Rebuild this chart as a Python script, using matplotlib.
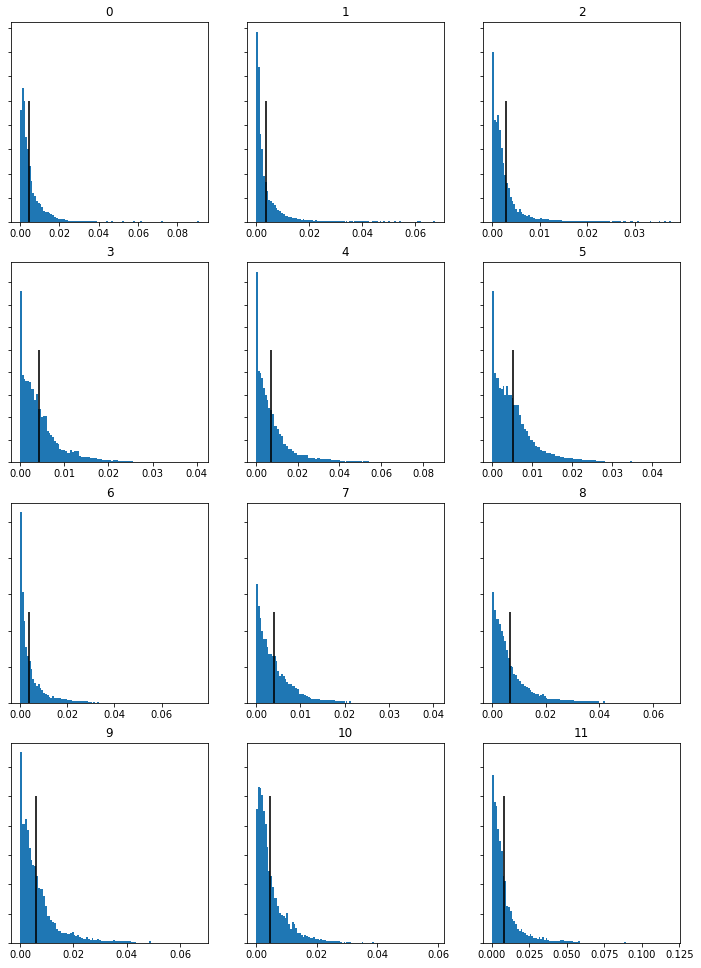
import numpy as np
import matplotlib
matplotlib.use('Agg')
import matplotlib.pyplot as plt

# upper end of the value range for each panel (lower end is 0)
max_vals = [0.091, 0.0674, 0.0376, 0.0405, 0.0858, 0.0447,
            0.0758, 0.0404, 0.0667, 0.0671, 0.059, 0.1194]

# position of the black marker line in each panel
means = [0.0047, 0.0039, 0.00287, 0.00427, 0.0073, 0.00514,
         0.004, 0.00405, 0.00683, 0.0059, 0.00473, 0.00776]
mark_height = 500

# histogram counts, 100 bins per panel
c0 = [460, 550, 500, 350, 300, 230, 170, 122, 108, 88,
      80, 74, 62, 48, 40, 42, 38, 32, 28, 20,
      16, 15, 15, 12, 12, 10, 10, 7, 7, 6,
      6, 5, 5, 5, 5, 4, 4, 4, 4, 4,
      4, 4, 4, 0, 0, 0, 0, 0, 4, 0,
      0, 4, 0, 0, 0, 0, 0, 4, 0, 0,
      0, 0, 0, 4, 0, 0, 0, 4, 0, 0,
      0, 0, 0, 0, 0, 0, 0, 0, 0, 4,
      0, 0, 0, 0, 0, 0, 0, 0, 0, 0,
      0, 0, 0, 0, 0, 0, 0, 0, 0, 4]
c1 = [784, 640, 362, 300, 190, 166, 129, 90, 87, 80,
      70, 60, 52, 45, 38, 33, 27, 25, 22, 20,
      18, 16, 17, 14, 12, 11, 12, 10, 10, 9,
      8, 9, 7, 8, 6, 6, 5, 5, 5, 5,
      5, 4, 4, 5, 4, 4, 4, 4, 4, 4,
      4, 0, 4, 4, 0, 4, 4, 4, 4, 4,
      4, 4, 4, 0, 0, 4, 4, 4, 0, 4,
      0, 4, 0, 0, 4, 0, 0, 4, 0, 0,
      4, 0, 0, 0, 0, 0, 0, 0, 0, 0,
      4, 4, 0, 0, 0, 0, 0, 0, 0, 4]
c2 = [700, 420, 410, 440, 380, 305, 242, 195, 160, 140,
      104, 88, 75, 56, 40, 53, 40, 35, 30, 26,
      30, 22, 20, 18, 15, 15, 14, 16, 15, 13,
      12, 14, 10, 10, 11, 11, 9, 8, 8, 7,
      7, 6, 5, 5, 5, 6, 5, 5, 5, 5,
      4, 5, 4, 5, 4, 4, 4, 4, 4, 4,
      4, 4, 4, 4, 4, 4, 0, 4, 4, 4,
      4, 4, 0, 4, 4, 0, 0, 4, 4, 0,
      0, 4, 0, 0, 0, 0, 0, 0, 4, 0,
      0, 0, 0, 4, 0, 0, 4, 0, 0, 4]
c3 = [760, 390, 372, 360, 360, 358, 328, 325, 279, 306,
      238, 236, 203, 206, 205, 140, 131, 120, 113, 96,
      88, 81, 59, 54, 54, 50, 44, 44, 54, 48,
      51, 51, 50, 30, 25, 26, 25, 24, 25, 19,
      19, 22, 22, 15, 15, 15, 10, 10, 10, 10,
      10, 8, 10, 10, 10, 6, 6, 6, 6, 6,
      6, 6, 6, 0, 0, 0, 0, 0, 0, 0,
      0, 0, 0, 0, 0, 0, 0, 0, 0, 0,
      0, 0, 0, 0, 0, 0, 0, 0, 0, 0,
      0, 0, 0, 0, 0, 0, 0, 0, 0, 1]
c4 = [846, 404, 397, 375, 331, 300, 279, 243, 232, 213,
      162, 160, 147, 125, 118, 81, 80, 74, 59, 58,
      51, 44, 43, 34, 32, 33, 31, 32, 32, 22,
      20, 22, 18, 17, 18, 18, 16, 15, 15, 14,
      15, 15, 10, 11, 10, 10, 9, 7, 7, 6,
      7, 7, 6, 7, 6, 7, 5, 5, 5, 0,
      5, 5, 5, 0, 0, 0, 0, 0, 0, 0,
      0, 0, 0, 0, 0, 0, 0, 0, 0, 0,
      0, 0, 0, 0, 0, 0, 0, 0, 0, 0,
      0, 0, 0, 0, 0, 0, 0, 0, 0, 1]
c5 = [760, 397, 375, 375, 331, 324, 341, 301, 338, 301,
      301, 287, 257, 257, 257, 210, 169, 169, 147, 140,
      118, 99, 99, 93, 75, 69, 69, 54, 49, 49,
      44, 40, 40, 37, 37, 29, 29, 29, 25, 25,
      22, 22, 22, 18, 18, 15, 15, 15, 15, 15,
      10, 10, 10, 10, 10, 10, 10, 10, 8, 8,
      8, 8, 8, 0, 0, 0, 0, 0, 0, 0,
      0, 0, 0, 0, 0, 0, 0, 6, 0, 0,
      0, 0, 0, 0, 0, 0, 0, 0, 0, 0,
      0, 0, 0, 0, 0, 0, 0, 0, 0, 1]
c6 = [1056, 611, 454, 306, 259, 231, 185, 130, 111, 93,
      106, 80, 69, 56, 46, 41, 31, 28, 35, 28,
      28, 24, 28, 22, 19, 19, 17, 13, 13, 10,
      10, 10, 10, 10, 8, 8, 8, 8, 5, 5,
      0, 5, 0, 6, 0, 0, 0, 0, 0, 0,
      0, 0, 0, 0, 0, 0, 0, 0, 0, 0,
      0, 0, 0, 0, 0, 0, 0, 0, 0, 0,
      0, 0, 0, 0, 0, 0, 0, 0, 0, 0,
      0, 0, 0, 0, 0, 0, 0, 0, 0, 0,
      0, 0, 0, 0, 0, 0, 0, 0, 0, 1]
c7 = [657, 537, 472, 398, 352, 352, 306, 269, 269, 259,
      259, 231, 176, 148, 157, 150, 130, 115, 106, 102,
      93, 93, 80, 74, 46, 50, 48, 41, 35, 31,
      28, 22, 22, 22, 19, 19, 17, 17, 15, 15,
      15, 15, 13, 13, 9, 9, 9, 9, 9, 9,
      9, 0, 7, 0, 0, 0, 0, 0, 0, 0,
      0, 0, 0, 0, 0, 0, 0, 0, 0, 0,
      0, 0, 0, 0, 0, 0, 0, 0, 0, 0,
      0, 0, 0, 0, 0, 0, 0, 0, 0, 0,
      0, 0, 0, 0, 0, 0, 0, 0, 0, 1]
c8 = [615, 513, 463, 463, 435, 398, 370, 343, 293, 246,
      204, 198, 157, 154, 130, 120, 106, 102, 94, 87,
      80, 69, 61, 56, 46, 50, 35, 41, 50, 37,
      28, 22, 22, 22, 19, 19, 19, 19, 17, 17,
      17, 17, 13, 13, 13, 13, 9, 9, 9, 9,
      9, 9, 9, 9, 9, 9, 7, 7, 7, 9,
      0, 0, 7, 0, 0, 0, 0, 0, 0, 0,
      0, 0, 0, 0, 0, 0, 0, 0, 0, 0,
      0, 0, 0, 0, 0, 0, 0, 0, 0, 0,
      0, 0, 0, 0, 0, 0, 0, 0, 0, 1]
c9 = [650, 406, 406, 423, 385, 324, 283, 267, 264, 230,
      188, 184, 184, 161, 127, 92, 92, 78, 73, 67,
      48, 42, 40, 33, 33, 33, 31, 31, 33, 36,
      27, 25, 28, 19, 16, 14, 14, 19, 14, 10,
      16, 10, 10, 14, 10, 7, 7, 7, 7, 7,
      7, 7, 10, 7, 7, 7, 6, 7, 6, 6,
      6, 6, 5, 5, 5, 0, 0, 0, 0, 0,
      0, 0, 6, 0, 0, 0, 0, 0, 0, 0,
      0, 0, 0, 0, 0, 0, 0, 0, 0, 0,
      0, 0, 0, 0, 0, 0, 0, 0, 0, 1]
c10 = [457, 533, 530, 506, 449, 406, 326, 247, 230, 190,
       153, 153, 127, 101, 97, 93, 85, 101, 65, 48,
       70, 65, 51, 33, 33, 28, 19, 28, 24, 19,
       16, 16, 19, 14, 14, 10, 12, 10, 10, 7,
       7, 7, 6, 6, 6, 6, 6, 5, 0, 4,
       4, 4, 5, 0, 0, 0, 0, 0, 0, 5,
       0, 0, 0, 0, 0, 5, 0, 0, 0, 0,
       0, 0, 0, 0, 0, 0, 0, 0, 0, 0,
       0, 0, 0, 0, 0, 0, 0, 0, 0, 0,
       0, 0, 0, 0, 0, 0, 0, 0, 0, 1]
c11 = [573, 480, 468, 389, 349, 315, 230, 210, 127, 124,
       110, 82, 76, 65, 48, 42, 48, 36, 33, 28,
       24, 31, 25, 16, 16, 14, 19, 14, 19, 10,
       16, 10, 8, 8, 8, 7, 7, 7, 10, 10,
       7, 7, 7, 6, 6, 5, 5, 5, 6, 0,
       0, 0, 0, 0, 0, 0, 0, 0, 0, 0,
       0, 0, 0, 0, 0, 0, 0, 0, 0, 0,
       0, 0, 0, 0, 5, 0, 0, 0, 0, 0,
       0, 0, 0, 0, 0, 0, 0, 0, 0, 0,
       0, 0, 0, 0, 0, 0, 0, 0, 0, 1]

counts = [c0, c1, c2, c3, c4, c5, c6, c7, c8, c9, c10, c11]

fig, axes = plt.subplots(4, 3, sharey='row', figsize=(701 / 72, 968 / 72), dpi=72)
fig.subplots_adjust(left=11 / 701, right=680 / 701, top=1 - 22 / 968,
                    bottom=1 - 943 / 968, wspace=0.198, hspace=0.2)

for i, ax in enumerate(axes.flat):
    edges = np.linspace(0, max_vals[i], len(counts[i]) + 1)
    ax.hist(edges[:-1], bins=edges, weights=counts[i], color='C0')
    ax.vlines(means[i], 0, mark_height, color='k', alpha=0.8, lw=2)
    ax.set_title(str(i))
    ax.tick_params(labelleft=False)

fig.savefig('out.png', dpi=72)
